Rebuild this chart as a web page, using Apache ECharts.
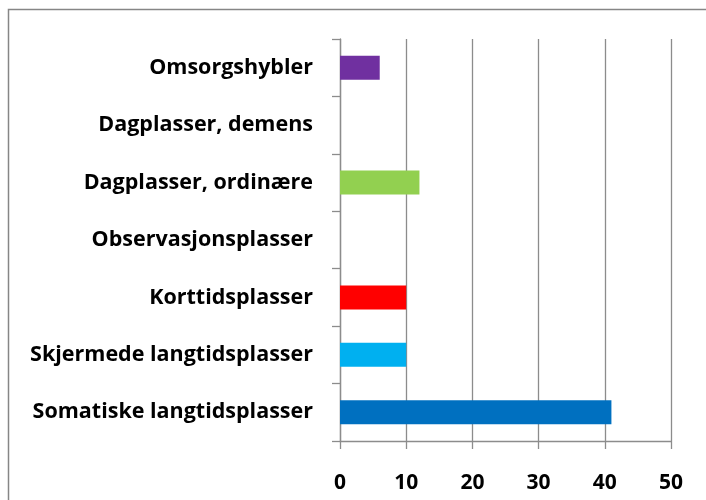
<!DOCTYPE html>
<html><head><meta charset="utf-8">
<script src="https://cdn.jsdelivr.net/npm/echarts@6/dist/echarts.min.js"></script>
<style>html,body{margin:0;padding:0;background:#fff}#c{width:706px;height:500px}</style>
</head><body><div id="c"></div>
<script>
const categories = ["Somatiske langtidsplasser","Skjermede langtidsplasser","Korttidsplasser","Observasjonsplasser","Dagplasser, ordinære","Dagplasser, demens","Omsorgshybler"];
const values = [41, 10, 10, 0, 12, 0, 6];
const barColors = ["#0070C0","#00B0F0","#FF0000","#7F7F7F","#92D050","#4F81BD","#7030A0"];
const xTicks = [0, 10, 20, 30, 40, 50];

const chart = echarts.init(document.getElementById('c'), null, {renderer:'canvas'});
const font = '"Open Sans", sans-serif';
chart.setOption({
  animation:false,
  graphic:[{type:'rect', shape:{x:8.5,y:9.5,width:720,height:520}, style:{fill:'none',stroke:'#868686',lineWidth:1.5}, silent:true, z:-1}],
  grid:{left:340, right:35, top:39, bottom:59},
  xAxis:{type:'value', min:xTicks[0], max:xTicks[xTicks.length-1], interval:10,
    axisLine:{show:true,lineStyle:{color:'#8c8c8c',width:1.3}},
    axisTick:{show:true,length:8,lineStyle:{color:'#8c8c8c',width:1.3}},
    splitLine:{show:true,lineStyle:{color:'#8c8c8c',width:1.3}},
    axisLabel:{fontFamily:font,fontWeight:'bold',fontSize:21,color:'#000',margin:32}},
  yAxis:{type:'category', data:categories,
    axisLine:{show:true,lineStyle:{color:'#8c8c8c',width:1.3}},
    axisTick:{show:true,length:8,lineStyle:{color:'#8c8c8c',width:1.3}},
    axisLabel:{fontFamily:font,fontWeight:'bold',fontSize:21.5,color:'#000',margin:27,padding:[3,0,0,0]}},
  series:[{type:'bar', barWidth:24,
    data: values.map((v,i)=>({value:v,itemStyle:{color:barColors[i]}}))}]
});
</script></body></html>
